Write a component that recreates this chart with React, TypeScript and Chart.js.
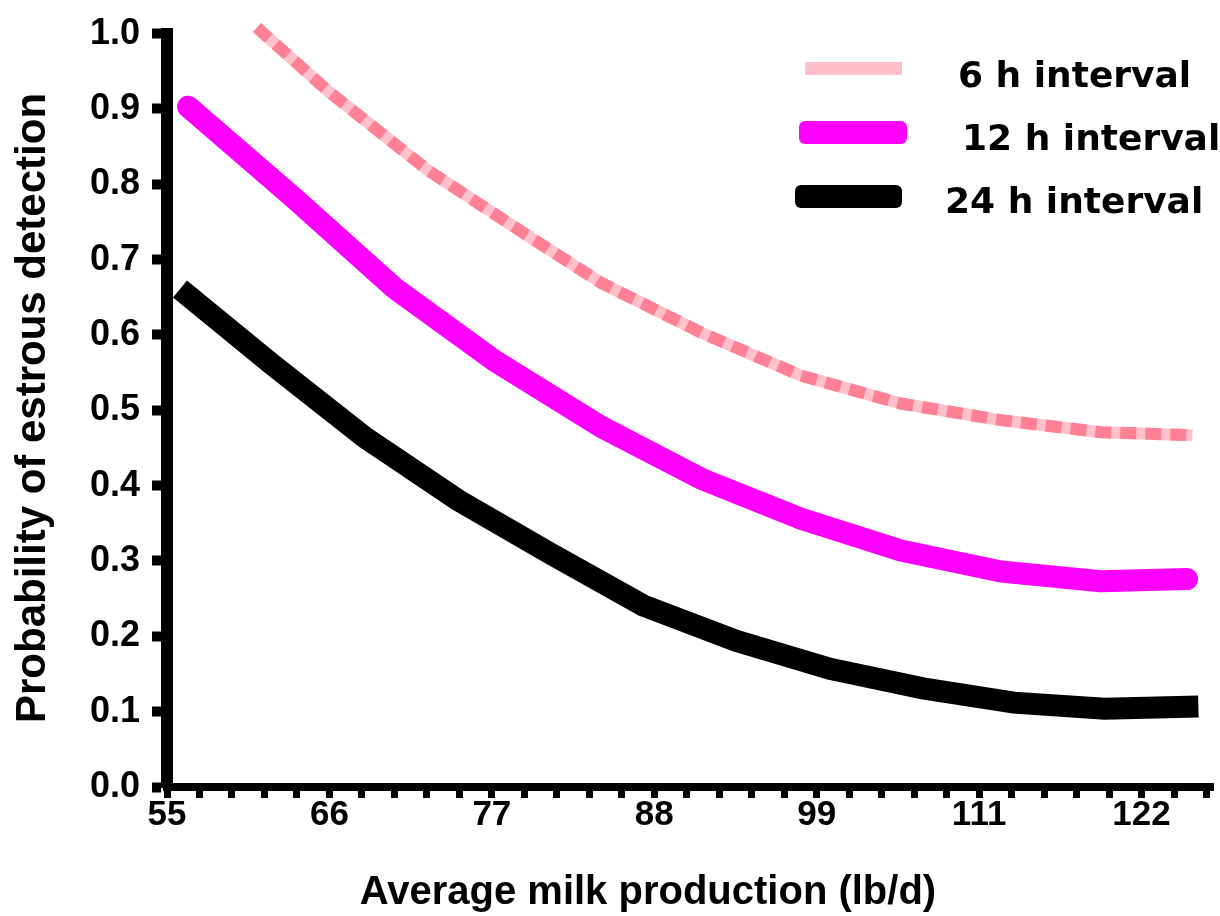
import React, { useEffect, useRef } from 'react';
import { Chart, registerables } from 'chart.js';

Chart.register(...registerables);

// ---- Data ----
// x positions are in kg/d (5 kg steps), tick labels shown in lb/d
const xTickValues = [25, 30, 35, 40, 45, 50, 55];
const xTickLabels = ['55', '66', '77', '88', '99', '111', '122'];

const seriesNames = ['6 h interval', '12 h interval', '24 h interval'];

const x6h = [27.77, 29.98, 33.05, 36.13, 38.37, 41.45, 44.52, 47.59, 50.67, 53.74, 56.57];
const y6h = [1.008, 0.923, 0.818, 0.731, 0.669, 0.603, 0.546, 0.509, 0.487, 0.471, 0.467];

const x12h = [25.65, 28.93, 32.01, 35.08, 38.37, 41.45, 44.52, 47.59, 50.67, 53.74, 56.4];
const y12h = [0.903, 0.781, 0.662, 0.566, 0.478, 0.409, 0.356, 0.314, 0.286, 0.273, 0.276];

const x24h = [25.4, 28.23, 31.09, 33.95, 36.8, 39.66, 42.52, 45.41, 48.27, 51.07, 53.86, 56.75];
const y24h = [0.661, 0.561, 0.464, 0.381, 0.31, 0.241, 0.194, 0.157, 0.131, 0.112, 0.104, 0.107];

const xTitle = 'Average milk production (lb/d)';
const yTitle = 'Probability of estrous detection';

// ---- Styles ----
const pinkLight = '#FFC0CB';
const pinkDark = '#FF8094';
const magenta = '#FF00FF';
const black = '#000000';
const axisFont = "'Liberation Sans', Arial, Helvetica, sans-serif";
const legendFont = "'Comic Sans MS', 'DejaVu Sans', sans-serif";

const pts = (xs: number[], ys: number[]) => xs.map((x, i) => ({ x, y: ys[i] }));

const decorPlugin = {
  id: 'decor',
  afterDraw(chart: any) {
    const ctx = chart.ctx as CanvasRenderingContext2D;
    ctx.save();
    ctx.fillStyle = '#000';
    ctx.font = `bold 40px ${axisFont}`;
    ctx.textAlign = 'center';
    ctx.textBaseline = 'alphabetic';
    ctx.fillText(xTitle, 648, 904);
    ctx.save();
    ctx.font = `bold 42px ${axisFont}`;
    ctx.translate(45, 408);
    ctx.rotate(-Math.PI / 2);
    ctx.fillText(yTitle, 0, 0);
    ctx.restore();

    // legend
    const samples = [
      { x: 805, y: 62, w: 97, h: 13, r: 0, color: pinkLight, tx: 958, ty: 87 },
      { x: 799, y: 121, w: 108, h: 23, r: 6, color: magenta, tx: 962, ty: 150 },
      { x: 795, y: 185, w: 107, h: 23, r: 6, color: black, tx: 945, ty: 213 },
    ];
    ctx.font = `bold 36px ${legendFont}`;
    ctx.textAlign = 'left';
    samples.forEach((s, i) => {
      ctx.fillStyle = s.color;
      ctx.beginPath();
      if (s.r > 0 && (ctx as any).roundRect) {
        (ctx as any).roundRect(s.x, s.y, s.w, s.h, s.r);
      } else {
        ctx.rect(s.x, s.y, s.w, s.h);
      }
      ctx.fill();
      ctx.fillStyle = '#000';
      ctx.fillText(seriesNames[i], s.tx, s.ty);
    });
    ctx.restore();
  },
};

export default function App() {
  const ref = useRef<HTMLCanvasElement | null>(null);

  useEffect(() => {
    if (!ref.current) return;
    const chart = new Chart(ref.current, {
      type: 'line',
      data: {
        datasets: [
          {
            label: seriesNames[0] + ' dash',
            data: pts(x6h, y6h),
            borderColor: pinkDark,
            borderWidth: 12,
            borderDash: [16, 9],
            borderCapStyle: 'butt',
            pointRadius: 0,
            tension: 0,
            clip: false,
          } as any,
          {
            label: seriesNames[0],
            data: pts(x6h, y6h),
            borderColor: pinkLight,
            borderWidth: 12,
            borderCapStyle: 'butt',
            pointRadius: 0,
            tension: 0,
            clip: false,
          } as any,
          {
            label: seriesNames[1],
            data: pts(x12h, y12h),
            borderColor: magenta,
            borderWidth: 22,
            borderCapStyle: 'round',
            borderJoinStyle: 'round',
            pointRadius: 0,
            tension: 0,
            clip: false,
          } as any,
          {
            label: seriesNames[2],
            data: pts(x24h, y24h),
            borderColor: black,
            borderWidth: 22,
            borderCapStyle: 'butt',
            borderJoinStyle: 'miter',
            pointRadius: 0,
            tension: 0,
            clip: false,
          } as any,
        ],
      },
      options: {
        responsive: false,
        animation: false,
        devicePixelRatio: 1,
        layout: { padding: { top: 29, right: 7, left: 0, bottom: 0 } },
        plugins: {
          legend: { display: false },
          tooltip: { enabled: false },
          title: { display: false },
        },
        scales: {
          x: {
            type: 'linear',
            min: 25,
            max: 57.2,
            afterFit: (s: any) => {
              s.height = 129;
            },
            border: { display: true, color: black, width: 8 },
            grid: {
              drawOnChartArea: false,
              drawTicks: true,
              tickLength: 11,
              tickWidth: 7,
              tickColor: black,
            },
            ticks: {
              stepSize: 1,
              autoSkip: false,
              maxRotation: 0,
              minRotation: 0,
              includeBounds: false,
              maxTicksLimit: 100,
              padding: 0,
              color: black,
              font: { family: axisFont, size: 35, weight: 'bold', lineHeight: 1 },
              callback: (v: any) => {
                const idx = xTickValues.indexOf(Math.round(Number(v) * 1000) / 1000);
                return idx >= 0 ? xTickLabels[idx] : '';
              },
            },
          },
          y: {
            type: 'linear',
            min: 0,
            max: 1,
            afterFit: (s: any) => {
              s.width = 167;
            },
            border: { display: true, color: black, width: 12 },
            grid: {
              drawOnChartArea: false,
              drawTicks: true,
              tickLength: 15,
              tickWidth: 10,
              tickColor: black,
            },
            ticks: {
              stepSize: 0.1,
              padding: 12,
              color: black,
              font: { family: axisFont, size: 36, weight: 'bold' },
              callback: (v: any) => Number(v).toFixed(1),
            },
          },
        },
      } as any,
      plugins: [decorPlugin],
    });
    return () => chart.destroy();
  }, []);

  return (
    <div style={{ position: 'fixed', left: 0, top: 0, width: 1220, height: 916, background: '#fff' }}>
      <canvas ref={ref} width={1220} height={916} style={{ display: 'block' }} />
    </div>
  );
}
